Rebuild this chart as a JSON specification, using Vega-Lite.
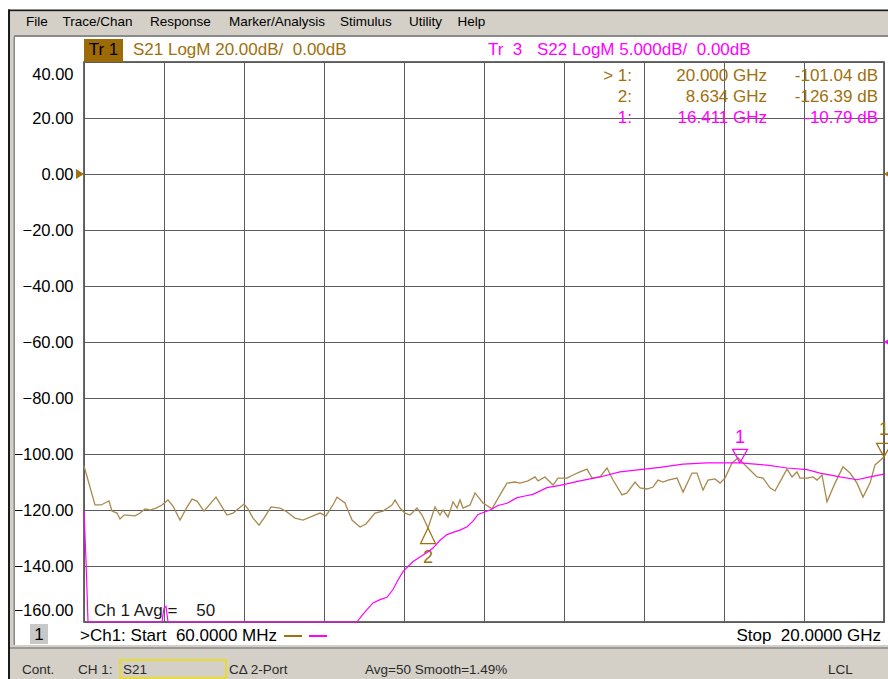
{
"$schema": "https://vega.github.io/schema/vega-lite/v6.json",
"width": 800, "height": 560,
"autosize": {"type": "none"},
"padding": {"left": 84, "top": 62, "right": 4, "bottom": 57},
"background": "white",
"config": {
  "view": {"stroke": "#383838", "strokeWidth": 1.5, "fill": "white"},
  "font": "Liberation Sans",
  "text": {"font": "Liberation Sans", "fontSize": 17, "baseline": "middle"},
  "axis": {"gridColor": "#5c5c5c", "gridWidth": 1, "gridOpacity": 1}
},
"data": {"values": [{}]},
"datasets": {
  "s21": [{"f":0.06,"v":-104.3},{"f":0.11,"v":-106.8},{"f":0.334,"v":-118.2},{"f":0.484,"v":-118.2},{"f":0.683,"v":-116.8},{"f":0.758,"v":-120.4},{"f":0.883,"v":-121.1},{"f":0.957,"v":-123.2},{"f":1.057,"v":-121.8},{"f":1.132,"v":-121.8},{"f":1.331,"v":-122.1},{"f":1.456,"v":-121.1},{"f":1.58,"v":-119.6},{"f":1.705,"v":-120.0},{"f":1.855,"v":-119.3},{"f":2.004,"v":-118.2},{"f":2.154,"v":-116.4},{"f":2.278,"v":-118.6},{"f":2.453,"v":-123.6},{"f":2.602,"v":-119.6},{"f":2.752,"v":-116.1},{"f":2.877,"v":-116.8},{"f":3.051,"v":-120.4},{"f":3.35,"v":-115.4},{"f":3.624,"v":-121.8},{"f":3.774,"v":-121.1},{"f":4.048,"v":-117.9},{"f":4.148,"v":-119.6},{"f":4.272,"v":-122.9},{"f":4.422,"v":-125.4},{"f":4.547,"v":-122.9},{"f":4.721,"v":-118.9},{"f":4.945,"v":-119.3},{"f":5.12,"v":-120.7},{"f":5.319,"v":-122.9},{"f":5.519,"v":-123.6},{"f":5.768,"v":-122.1},{"f":5.942,"v":-121.1},{"f":6.092,"v":-122.1},{"f":6.291,"v":-117.5},{"f":6.366,"v":-115.4},{"f":6.565,"v":-117.5},{"f":6.74,"v":-123.6},{"f":6.939,"v":-126.1},{"f":7.089,"v":-125.0},{"f":7.313,"v":-121.1},{"f":7.513,"v":-120.4},{"f":7.737,"v":-118.2},{"f":7.812,"v":-116.4},{"f":7.936,"v":-119.3},{"f":8.061,"v":-121.1},{"f":8.186,"v":-121.8},{"f":8.36,"v":-119.3},{"f":8.485,"v":-121.8},{"f":8.634,"v":-126.39},{"f":8.809,"v":-118.9},{"f":8.934,"v":-121.8},{"f":9.008,"v":-120.0},{"f":9.133,"v":-122.5},{"f":9.258,"v":-117.1},{"f":9.357,"v":-119.3},{"f":9.432,"v":-116.4},{"f":9.507,"v":-119.3},{"f":9.681,"v":-118.2},{"f":9.806,"v":-113.9},{"f":10.005,"v":-117.5},{"f":10.23,"v":-119.6},{"f":10.429,"v":-114.6},{"f":10.603,"v":-110.4},{"f":10.803,"v":-110.0},{"f":10.928,"v":-110.4},{"f":11.127,"v":-109.6},{"f":11.302,"v":-108.2},{"f":11.376,"v":-109.6},{"f":11.551,"v":-108.2},{"f":11.75,"v":-111.1},{"f":11.875,"v":-108.6},{"f":12.099,"v":-108.6},{"f":12.249,"v":-107.5},{"f":12.423,"v":-106.4},{"f":12.598,"v":-105.4},{"f":12.722,"v":-108.6},{"f":12.921,"v":-108.2},{"f":13.096,"v":-105.0},{"f":13.246,"v":-109.3},{"f":13.47,"v":-114.6},{"f":13.595,"v":-113.9},{"f":13.794,"v":-110.0},{"f":13.919,"v":-112.1},{"f":14.093,"v":-112.5},{"f":14.243,"v":-111.8},{"f":14.367,"v":-109.3},{"f":14.492,"v":-110.0},{"f":14.617,"v":-109.3},{"f":14.841,"v":-108.6},{"f":14.991,"v":-113.6},{"f":15.215,"v":-106.8},{"f":15.339,"v":-106.8},{"f":15.489,"v":-112.9},{"f":15.613,"v":-109.3},{"f":15.788,"v":-108.9},{"f":15.913,"v":-110.4},{"f":16.037,"v":-108.6},{"f":16.212,"v":-103.2},{"f":16.361,"v":-101.4},{"f":16.486,"v":-103.2},{"f":16.66,"v":-105.7},{"f":16.835,"v":-108.2},{"f":16.984,"v":-108.6},{"f":17.159,"v":-112.1},{"f":17.283,"v":-113.2},{"f":17.458,"v":-108.6},{"f":17.582,"v":-105.4},{"f":17.707,"v":-108.2},{"f":17.832,"v":-106.4},{"f":17.906,"v":-108.6},{"f":18.081,"v":-108.6},{"f":18.23,"v":-108.2},{"f":18.33,"v":-109.3},{"f":18.455,"v":-107.5},{"f":18.579,"v":-117.1},{"f":18.779,"v":-110.4},{"f":18.978,"v":-104.6},{"f":19.153,"v":-106.8},{"f":19.327,"v":-110.4},{"f":19.477,"v":-115.4},{"f":19.651,"v":-110.4},{"f":19.776,"v":-103.9},{"f":20.0,"v":-101.04}],
  "s22": [{"f":0.06,"v":-15.1},{"f":0.11,"v":-19.5},{"f":0.16,"v":-25},{"f":2.004,"v":-25},{"f":2.054,"v":-23.75},{"f":2.104,"v":-23.6},{"f":2.154,"v":-25},{"f":6.864,"v":-25},{"f":6.989,"v":-24.4},{"f":7.114,"v":-23.9},{"f":7.263,"v":-23.3},{"f":7.438,"v":-23.0},{"f":7.612,"v":-22.8},{"f":7.762,"v":-22.1},{"f":7.886,"v":-21.25},{"f":8.011,"v":-20.5},{"f":8.261,"v":-19.6},{"f":8.435,"v":-19.2},{"f":8.61,"v":-18.8},{"f":8.759,"v":-18.4},{"f":8.934,"v":-17.7},{"f":9.108,"v":-17.2},{"f":9.258,"v":-17.0},{"f":9.432,"v":-16.8},{"f":9.607,"v":-16.5},{"f":9.756,"v":-16.0},{"f":9.881,"v":-15.4},{"f":10.03,"v":-15.2},{"f":10.18,"v":-15.0},{"f":10.379,"v":-14.6},{"f":10.603,"v":-14.4},{"f":10.853,"v":-13.9},{"f":11.052,"v":-13.75},{"f":11.251,"v":-13.6},{"f":11.6,"v":-13.0},{"f":11.924,"v":-12.8},{"f":12.423,"v":-12.4},{"f":12.921,"v":-12.05},{"f":13.42,"v":-11.6},{"f":13.919,"v":-11.4},{"f":14.417,"v":-11.2},{"f":14.991,"v":-10.9},{"f":15.588,"v":-10.8},{"f":16.087,"v":-10.8},{"f":16.411,"v":-10.79},{"f":17.084,"v":-11.0},{"f":17.582,"v":-11.25},{"f":18.081,"v":-11.4},{"f":18.405,"v":-11.7},{"f":18.904,"v":-12.05},{"f":19.327,"v":-12.3},{"f":19.651,"v":-12.05},{"f":20.0,"v":-11.8}]
},
"layer": [
 {"layer": [
  {"mark": {"type": "rect", "color": "#1a1a1a"}, "encoding": {"x": {"datum": -1.834}, "x2": {"datum": 20.3}, "y": {"datum": 58.75}, "y2": {"datum": 58.04}}},
  {"mark": {"type": "rect", "color": "#d4d0c8"}, "encoding": {"x": {"datum": -1.784}, "x2": {"datum": 20.3}, "y": {"datum": 58.04}, "y2": {"datum": 49.64}}},
  {"mark": {"type": "rect", "color": "#8a8a8a"}, "encoding": {"x": {"datum": -1.784}, "x2": {"datum": 20.3}, "y": {"datum": 49.64}, "y2": {"datum": 48.93}}},
  {"mark": {"type": "rect", "color": "#1a1a1a"}, "encoding": {"x": {"datum": -1.834}, "x2": {"datum": -1.784}, "y": {"datum": 58.75}, "y2": {"datum": -180.5}}},
  {"mark": {"type": "rect", "color": "#d4d0c8"}, "encoding": {"x": {"datum": -1.784}, "x2": {"datum": -1.685}, "y": {"datum": 49.64}, "y2": {"datum": -180.5}}},
  {"mark": {"type": "rect", "color": "#8a8a8a"}, "encoding": {"x": {"datum": -1.697}, "x2": {"datum": -1.66}, "y": {"datum": 48.93}, "y2": {"datum": -168.2}}},
  {"mark": {"type": "rect", "color": "#d4d0c8"}, "encoding": {"x": {"datum": -1.784}, "x2": {"datum": 20.3}, "y": {"datum": -168.21}, "y2": {"datum": -180.5}}},
  {"mark": {"type": "rect", "color": "#9a9a9a"}, "encoding": {"x": {"datum": -1.784}, "x2": {"datum": 20.3}, "y": {"datum": -168.93}, "y2": {"datum": -169.64}}},
  {"mark": {"type": "rect", "color": "#9c6a06"}, "encoding": {"x": {"datum": 0.06}, "x2": {"datum": 1.032}, "y": {"datum": 48.21}, "y2": {"datum": 40}}},
  {"mark": {"type": "rect", "color": "#c8c8c8"}, "encoding": {"x": {"datum": -1.286}, "x2": {"datum": -0.837}, "y": {"datum": -160.71}, "y2": {"datum": -167.86}}},
  {"mark": {"type": "rect", "fillOpacity": 0, "stroke": "#ece000", "strokeWidth": 1.5}, "encoding": {"x": {"datum": 0.957}, "x2": {"datum": 3.599}, "y": {"datum": -173.57}, "y2": {"datum": -180}}},
  {"data": {"name": "s21"}, "mark": {"type": "line", "color": "#a8894e", "strokeWidth": 1.3},
   "encoding": {
    "x": {"field": "f", "type": "quantitative", "scale": {"domain": [0.06, 20], "nice": false, "zero": false},
          "axis": {"values": [0.06, 2.054, 4.048, 6.042, 8.036, 10.03, 12.024, 14.018, 16.012, 18.006, 20.0], "labels": false, "ticks": false, "domain": false, "grid": true, "title": null}},
    "y": {"field": "v", "type": "quantitative", "scale": {"domain": [-160, 40], "nice": false, "zero": false},
          "axis": {"values": [-160, -140, -120, -100, -80, -60, -40, -20, 0, 20, 40], "format": ".2f", "ticks": false, "domain": false, "grid": true, "title": null,
                   "labelFont": "Liberation Sans", "labelFontSize": 16.5, "labelColor": "#000000", "labelPadding": 11, "labelFlush": true, "labelFlushOffset": -4}}
   }},
  {"mark": {"type": "point", "shape": "M0,0L-1,-1.8L1,-1.8Z", "size": 225, "filled": false, "stroke": "#a0700c", "strokeWidth": 1.2, "opacity": 1}, "encoding": {"x": {"datum": 20.0}, "y": {"datum": -101.04}}},
  {"mark": {"type": "text", "align": "center", "color": "#a0700c", "fontSize": 18, "dy": -27, "text": "1"}, "encoding": {"x": {"datum": 20.0}, "y": {"datum": -101.04}}},
  {"mark": {"type": "point", "shape": "M0,0L-1,2.1L1,2.1Z", "size": 225, "filled": false, "stroke": "#a0700c", "strokeWidth": 1.2, "opacity": 1}, "encoding": {"x": {"datum": 8.634}, "y": {"datum": -126.39}}},
  {"mark": {"type": "text", "align": "center", "color": "#a0700c", "fontSize": 18, "dy": 30, "text": "2"}, "encoding": {"x": {"datum": 8.634}, "y": {"datum": -126.39}}},
  {"mark": {"type": "point", "shape": "M0,0L-1.6,-1L-1.6,1Z", "size": 100, "filled": true, "color": "#a0700c", "opacity": 1}, "encoding": {"x": {"datum": 0.06}, "y": {"datum": 0}}},
  {"mark": {"type": "point", "shape": "M0,0L1.6,-1L1.6,1Z", "size": 100, "filled": true, "color": "#a0700c", "opacity": 1}, "encoding": {"x": {"datum": 20.0}, "y": {"datum": 0}}},

  {"mark": {"type": "text", "align": "left", "fontSize": 13.5, "color": "#000000", "text": "File"}, "encoding": {"x": {"datum": -1.386}, "y": {"datum": 54.29}}},
  {"mark": {"type": "text", "align": "left", "fontSize": 13.5, "color": "#000000", "text": "Trace/Chan"}, "encoding": {"x": {"datum": -0.476}, "y": {"datum": 54.29}}},
  {"mark": {"type": "text", "align": "left", "fontSize": 13.5, "color": "#000000", "text": "Response"}, "encoding": {"x": {"datum": 1.705}, "y": {"datum": 54.29}}},
  {"mark": {"type": "text", "align": "left", "fontSize": 13.5, "color": "#000000", "text": "Marker/Analysis"}, "encoding": {"x": {"datum": 3.674}, "y": {"datum": 54.29}}},
  {"mark": {"type": "text", "align": "left", "fontSize": 13.5, "color": "#000000", "text": "Stimulus"}, "encoding": {"x": {"datum": 6.441}, "y": {"datum": 54.29}}},
  {"mark": {"type": "text", "align": "left", "fontSize": 13.5, "color": "#000000", "text": "Utility"}, "encoding": {"x": {"datum": 8.161}, "y": {"datum": 54.29}}},
  {"mark": {"type": "text", "align": "left", "fontSize": 13.5, "color": "#000000", "text": "Help"}, "encoding": {"x": {"datum": 9.369}, "y": {"datum": 54.29}}},

  {"mark": {"type": "text", "align": "center", "color": "#000000", "text": "Tr\u00a01"}, "encoding": {"x": {"datum": 0.546}, "y": {"datum": 44.29}}},
  {"mark": {"type": "text", "align": "left", "color": "#a0700c", "text": "S21 LogM 20.00dB/\u00a0 0.00dB"}, "encoding": {"x": {"datum": 1.281}, "y": {"datum": 44.29}}},
  {"mark": {"type": "text", "align": "left", "color": "#ff00ff", "text": "Tr\u00a0\u00a03"}, "encoding": {"x": {"datum": 10.13}, "y": {"datum": 44.29}}},
  {"mark": {"type": "text", "align": "left", "color": "#ff00ff", "text": "S22 LogM 5.000dB/\u00a0 0.00dB"}, "encoding": {"x": {"datum": 11.351}, "y": {"datum": 44.29}}},

  {"mark": {"type": "text", "align": "right", "color": "#a0700c", "text": "> 1:"}, "encoding": {"x": {"datum": 13.719}, "y": {"datum": 35.0}}},
  {"mark": {"type": "text", "align": "right", "color": "#a0700c", "text": "20.000 GHz"}, "encoding": {"x": {"datum": 17.084}, "y": {"datum": 35.0}}},
  {"mark": {"type": "text", "align": "right", "color": "#a0700c", "text": "-101.04 dB"}, "encoding": {"x": {"datum": 19.85}, "y": {"datum": 35.0}}},
  {"mark": {"type": "text", "align": "right", "color": "#a0700c", "text": "2:"}, "encoding": {"x": {"datum": 13.719}, "y": {"datum": 27.5}}},
  {"mark": {"type": "text", "align": "right", "color": "#a0700c", "text": "8.634 GHz"}, "encoding": {"x": {"datum": 17.084}, "y": {"datum": 27.5}}},
  {"mark": {"type": "text", "align": "right", "color": "#a0700c", "text": "-126.39 dB"}, "encoding": {"x": {"datum": 19.85}, "y": {"datum": 27.5}}},
  {"mark": {"type": "text", "align": "right", "color": "#ff00ff", "text": "1:"}, "encoding": {"x": {"datum": 13.719}, "y": {"datum": 20.0}}},
  {"mark": {"type": "text", "align": "right", "color": "#ff00ff", "text": "16.411 GHz"}, "encoding": {"x": {"datum": 17.084}, "y": {"datum": 20.0}}},
  {"mark": {"type": "text", "align": "right", "color": "#ff00ff", "text": "-10.79 dB"}, "encoding": {"x": {"datum": 19.85}, "y": {"datum": 20.0}}},

  {"mark": {"type": "text", "align": "left", "color": "#1a1a1a", "text": "Ch 1 Avg =\u00a0\u00a0\u00a0\u00a050"}, "encoding": {"x": {"datum": 0.309}, "y": {"datum": -156.07}}},
  {"mark": {"type": "text", "align": "center", "color": "#000000", "text": "1"}, "encoding": {"x": {"datum": -1.062}, "y": {"datum": -164.6}}},
  {"mark": {"type": "text", "align": "left", "color": "#000000", "text": ">Ch1: Start\u00a0 60.0000 MHz"}, "encoding": {"x": {"datum": -0.04}, "y": {"datum": -165}}},
  {"mark": {"type": "rule", "color": "#a0700c", "strokeWidth": 2}, "encoding": {"x": {"datum": 5.045}, "x2": {"datum": 5.494}, "y": {"datum": -165}}},
  {"mark": {"type": "rule", "color": "#ff00ff", "strokeWidth": 2}, "encoding": {"x": {"datum": 5.668}, "x2": {"datum": 6.117}, "y": {"datum": -165}}},
  {"mark": {"type": "text", "align": "right", "color": "#000000", "text": "Stop\u00a0 20.0000 GHz"}, "encoding": {"x": {"datum": 19.925}, "y": {"datum": -165}}},

  {"mark": {"type": "text", "align": "left", "fontSize": 13.5, "color": "#2a2a2a", "text": "Cont."}, "encoding": {"x": {"datum": -1.485}, "y": {"datum": -177.14}}},
  {"mark": {"type": "text", "align": "left", "fontSize": 13.5, "color": "#2a2a2a", "text": "CH 1:"}, "encoding": {"x": {"datum": -0.09}, "y": {"datum": -177.14}}},
  {"mark": {"type": "text", "align": "left", "fontSize": 13.5, "color": "#2a2a2a", "text": "S21"}, "encoding": {"x": {"datum": 1.032}, "y": {"datum": -177.14}}},
  {"mark": {"type": "text", "align": "left", "fontSize": 13.5, "color": "#2a2a2a", "text": "CΔ 2-Port"}, "encoding": {"x": {"datum": 3.674}, "y": {"datum": -177.14}}},
  {"mark": {"type": "text", "align": "left", "fontSize": 13.5, "color": "#2a2a2a", "text": "Avg=50 Smooth=1.49%"}, "encoding": {"x": {"datum": 7.064}, "y": {"datum": -177.14}}},
  {"mark": {"type": "text", "align": "left", "fontSize": 13.5, "color": "#2a2a2a", "text": "LCL"}, "encoding": {"x": {"datum": 18.605}, "y": {"datum": -177.14}}}
 ]},
 {"layer": [
  {"data": {"name": "s22"}, "mark": {"type": "line", "color": "#ff00ff", "strokeWidth": 1.2},
   "encoding": {
    "x": {"field": "f", "type": "quantitative", "axis": {"values": [0.06, 2.054, 4.048, 6.042, 8.036, 10.03, 12.024, 14.018, 16.012, 18.006, 20.0], "labels": false, "ticks": false, "domain": false, "grid": true, "title": null}},
    "y": {"field": "v", "type": "quantitative", "scale": {"domain": [-25, 25], "nice": false, "zero": false}, "axis": null}
   }},
  {"mark": {"type": "point", "shape": "M0,0L-1,-1.8L1,-1.8Z", "size": 225, "filled": false, "stroke": "#ff00ff", "strokeWidth": 1.2, "opacity": 1}, "encoding": {"x": {"datum": 16.411}, "y": {"datum": -10.79}}},
  {"mark": {"type": "text", "align": "center", "color": "#ff00ff", "fontSize": 18, "dy": -25, "text": "1"}, "encoding": {"x": {"datum": 16.411}, "y": {"datum": -10.79}}},
  {"mark": {"type": "point", "shape": "M0,0L1.6,-1L1.6,1Z", "size": 100, "filled": true, "color": "#ff00ff", "opacity": 1}, "encoding": {"x": {"datum": 20.0}, "y": {"datum": 0}}}
 ]}
],
"resolve": {"scale": {"y": "independent"}}
}
